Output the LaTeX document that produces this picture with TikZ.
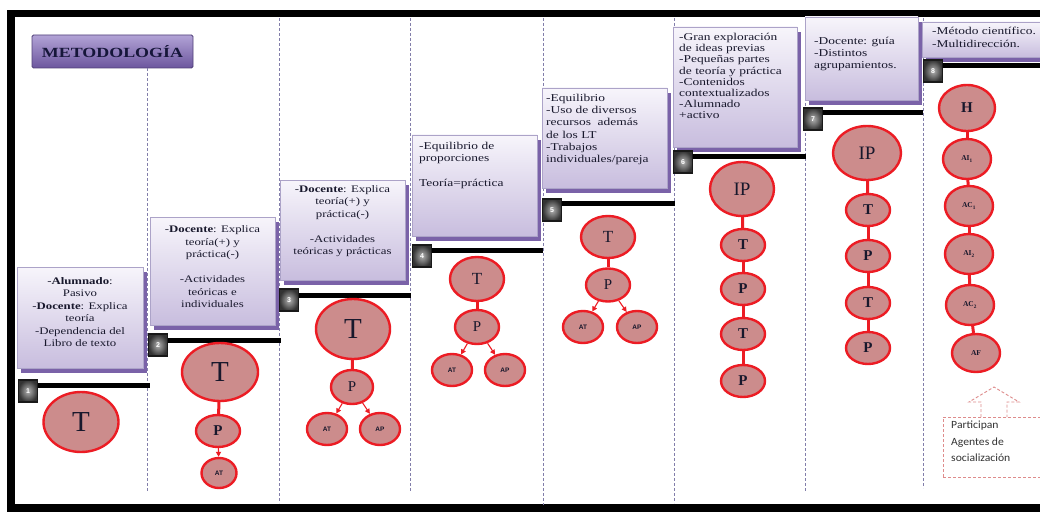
\documentclass[tikz,border=0pt]{standalone}
\usepackage{fontspec}
\setmainfont{Liberation Serif}
\newfontfamily\bxf{Liberation Serif}[FakeStretch=1.28]
\newfontfamily\clf{Carlito}[FakeStretch=1.06]
\newfontfamily\sqf{Liberation Sans}
\usetikzlibrary{shapes.geometric,arrows.meta,shadows}

\definecolor{rose}{RGB}{204,140,140}
\definecolor{bubred}{RGB}{236,28,36}
\definecolor{purp}{RGB}{122,98,168}
\definecolor{boxtop}{RGB}{247,245,251}
\definecolor{boxbot}{RGB}{200,189,222}
\definecolor{boxedge}{RGB}{172,163,200}
\definecolor{sepc}{RGB}{130,126,170}
\definecolor{txt}{RGB}{24,24,44}
\definecolor{pinkd}{RGB}{222,140,140}
\definecolor{titletop}{RGB}{178,163,214}
\definecolor{titlebot}{RGB}{108,86,158}
\definecolor{titleedge}{RGB}{80,64,120}
\definecolor{titletxt}{RGB}{22,22,58}

\newcommand\fsBigT{\fontsize{29}{29}\selectfont}
\newcommand\fsMidT{\fontsize{17}{17}\selectfont}
\newcommand\fsP{\fontsize{15}{15}\selectfont}
\newcommand\fsIP{\fontsize{19}{19}\selectfont}
\newcommand\fsSmall{\sqf\bfseries\fontsize{6.5}{6.5}\selectfont}
\newcommand\fsSub{\bfseries\fontsize{7.5}{7.5}\selectfont}

\begin{document}
\begin{tikzpicture}[x=1pt,y=-1pt,
  sep/.style={draw=sepc, line width=1pt, dash pattern=on 3pt off 2pt},
  stepbox/.style={rectangle, draw=boxedge, line width=0.6pt, top color=boxtop,
    bottom color=boxbot, inner sep=0pt,
    general shadow={fill=purp, shadow xshift=4pt, shadow yshift=-5pt}},
  boxtext/.style={inner sep=0pt, text=txt, font=\bxf\fontsize{10}{12.5}\selectfont},
  numsq/.style={rectangle, minimum width=19pt, minimum height=22pt, inner sep=0pt,
    draw=black!90, line width=1.6pt, inner color=black!30, outer color=black!80,
    text=white, font=\sqf\bfseries\fontsize{7}{7}\selectfont},
  bar/.style={draw=black, line width=5pt},
  bub/.style={ellipse, draw=bubred, fill=rose, line width=2.4pt, inner sep=0pt, text=txt},
  link/.style={draw=bubred, line width=3pt},
  arr/.style={draw=bubred, line width=1.1pt, -{Triangle[length=5pt,width=5pt]}},
  pinkdash/.style={draw=pinkd, line width=0.9pt, dash pattern=on 3pt off 2pt},
  titlebox/.style={rectangle, minimum width=161pt, minimum height=33pt, rounded corners=1.5pt,
    top color=titletop, bottom color=titlebot, draw=titleedge, line width=0.8pt,
    text=titletxt, font=\bxf\bfseries\fontsize{14}{14}\selectfont}
]
\useasboundingbox (0,0) rectangle (1040,513);
\fill[white] (0,0) rectangle (1040,513);

% outer frame (open on the right)
\draw[line width=7.5pt, line join=miter] (1050,13.5) -- (11,13.5) -- (11,508) -- (1050,508);

% title
\node[titlebox] (title) at (112.5,51.5) {METODOLOGÍA};

% dashed column separators
\draw[sep] (147,68) -- (147,492);
\draw[sep] (279,18) -- (279,503);
\draw[sep] (410,18) -- (410,492);
\draw[sep] (543,18) -- (543,505);
\draw[sep] (674,18) -- (674,503);
\draw[sep] (805,18) -- (805,492);
\draw[sep] (923,18) -- (923,488);

% step boxes
\node[stepbox, minimum width=126pt, minimum height=101pt] (b1) at (80,317.5) {};
\node[stepbox, minimum width=125pt, minimum height=108pt] (b2) at (212.5,271) {};
\node[stepbox, minimum width=125pt, minimum height=100pt] (b3) at (342.5,230) {};
\node[stepbox, minimum width=125pt, minimum height=101pt] (b4) at (474.5,185.5) {};
\node[stepbox, minimum width=125pt, minimum height=100pt] (b5) at (604.5,138) {};
\node[stepbox, minimum width=124pt, minimum height=120pt] (b6) at (735,87) {};
\node[stepbox, minimum width=113pt, minimum height=83pt] (b7) at (861.5,58.5) {};
\node[stepbox, minimum width=124pt, minimum height=35pt] (b8) at (984,39.5) {};

% box texts
\node[boxtext, align=center] (t1) at (80,312) {-\textbf{Alumnado}:\\Pasivo\\-\textbf{Docente}: Explica\\teoría\\-Dependencia del\\Libro de texto};
\node[boxtext, align=center] (t2) at (212.5,267) {-\textbf{Docente}: Explica\\teoría(+) y\\práctica(-)\\[12.5pt]-Actividades\\teóricas e\\individuales};
\node[boxtext, align=center, anchor=north] (t3) at (342.5,185) {-\textbf{Docente}: Explica\\teoría(+) y\\práctica(-)\\[12.5pt]-Actividades\\teóricas y prácticas};
\node[boxtext, align=left, anchor=north west, font=\bxf\fontsize{10.5}{12.5}\selectfont] (t4) at (419,142) {-Equilibrio de\\proporciones\\[12.5pt]Teoría=práctica};
\node[boxtext, align=left, anchor=north west, font=\bxf\fontsize{10.5}{12.2}\selectfont] (t5) at (546,94) {-Equilibrio\\-Uso de diversos\\recursos \ además\\de los LT\\-Trabajos\\individuales/pareja};
\node[boxtext, align=left, anchor=north west, font=\bxf\fontsize{10.5}{11.2}\selectfont] (t6) at (679,33) {-Gran exploración\\de ideas previas\\-Pequeñas partes\\de teoría y práctica\\-Contenidos\\contextualizados\\-Alumnado\\+activo};
\node[boxtext, align=left, anchor=north west, font=\bxf\fontsize{10.5}{11.8}\selectfont] (t7) at (814,37) {-Docente: guía\\-Distintos\\agrupamientos.};
\node[boxtext, align=left, anchor=north west, font=\bxf\fontsize{10.5}{13}\selectfont] (t8) at (932,27) {-Método científico.\\-Multidirección.};

% step bars
\coordinate (e1) at (150,385);
\coordinate (e2) at (281,340);
\coordinate (e3) at (411,295);
\coordinate (e4) at (543,250);
\coordinate (e5) at (675,203);
\coordinate (e6) at (806,157);
\coordinate (e7) at (923,113);
\coordinate (e8) at (1045,66);
\coordinate (q1) at (28,391);
\coordinate (q2) at (158,345);
\coordinate (q3) at (289,300);
\coordinate (q4) at (422,256);
\coordinate (q5) at (552,210);
\coordinate (q6) at (683,162);
\coordinate (q7) at (813,119);
\coordinate (q8) at (933,71);
\draw[bar] (q1 |- e1) -- (e1);
\draw[bar] (q2 |- e2) -- (e2);
\draw[bar] (q3 |- e3) -- (e3);
\draw[bar] (q4 |- e4) -- (e4);
\draw[bar] (q5 |- e5) -- (e5);
\draw[bar] (q6 |- e6) -- (e6);
\draw[bar] (q7 |- e7) -- (e7);
\draw[bar] (q8 |- e8) -- (e8);

% numbered squares on top of the bars
\node[numsq] (s1) at (q1) {1};
\node[numsq] (s2) at (q2) {2};
\node[numsq] (s3) at (q3) {3};
\node[numsq] (s4) at (q4) {4};
\node[numsq] (s5) at (q5) {5};
\node[numsq] (s6) at (q6) {6};
\node[numsq] (s7) at (q7) {7};
\node[numsq] (s8) at (q8) {8};

% step 1
\node[bub, minimum width=75pt, minimum height=60pt, font=\fsBigT] (c1T) at (81,422) {T};

% step 2
\node[bub, minimum width=76pt, minimum height=58pt, font=\fsBigT] (c2T) at (220,372) {T};
\node[bub, minimum width=44pt, minimum height=32pt, font=\fsP\bfseries] (c2P) at (218,431) {P};
\node[bub, minimum width=35pt, minimum height=30pt, font=\fsSmall] (c2AT) at (219,473) {AT};
\draw[link] (c2T) -- (c2P);
\draw[arr] (c2P) -- (c2AT);

% step 3
\node[bub, minimum width=74pt, minimum height=60pt, font=\fsBigT] (c3T) at (353,329) {T};
\node[bub, minimum width=42pt, minimum height=34pt, font=\fsP] (c3P) at (352,387) {P};
\node[bub, minimum width=40pt, minimum height=32pt, font=\fsSmall] (c3AT) at (327,429) {AT};
\node[bub, minimum width=40pt, minimum height=32pt, font=\fsSmall] (c3AP) at (380,429) {AP};
\draw[link] (c3T) -- (c3P);
\draw[arr] (c3P) -- (c3AT);
\draw[arr] (c3P) -- (c3AP);

% step 4
\node[bub, minimum width=54pt, minimum height=44pt, font=\fsMidT] (c4T) at (477,279) {T};
\node[bub, minimum width=44pt, minimum height=34pt, font=\fsP] (c4P) at (477,327) {P};
\node[bub, minimum width=40pt, minimum height=32pt, font=\fsSmall] (c4AT) at (452,370) {AT};
\node[bub, minimum width=40pt, minimum height=32pt, font=\fsSmall] (c4AP) at (505,370) {AP};
\draw[link] (c4T) -- (c4P);
\draw[arr] (c4P) -- (c4AT);
\draw[arr] (c4P) -- (c4AP);

% step 5
\node[bub, minimum width=54pt, minimum height=42pt, font=\fsMidT] (c5T) at (608,237) {T};
\node[bub, minimum width=44pt, minimum height=33pt, font=\fsP] (c5P) at (608,285) {P};
\node[bub, minimum width=40pt, minimum height=32pt, font=\fsSmall] (c5AT) at (583,327) {AT};
\node[bub, minimum width=40pt, minimum height=32pt, font=\fsSmall] (c5AP) at (637,327) {AP};
\draw[link] (c5T) -- (c5P);
\draw[arr] (c5P) -- (c5AT);
\draw[arr] (c5P) -- (c5AP);

% step 6
\node[bub, minimum width=64pt, minimum height=54pt, font=\fsIP] (c6IP) at (742,189) {IP};
\node[bub, minimum width=44pt, minimum height=32pt, font=\fsP\bfseries] (c6T1) at (743,245) {T};
\node[bub, minimum width=44pt, minimum height=32pt, font=\fsP\bfseries] (c6P1) at (743,289) {P};
\node[bub, minimum width=44pt, minimum height=32pt, font=\fsP\bfseries] (c6T2) at (743,334) {T};
\node[bub, minimum width=44pt, minimum height=32pt, font=\fsP\bfseries] (c6P2) at (743,381) {P};
\draw[link] (c6IP) -- (c6T1);
\draw[link] (c6T1) -- (c6P1);
\draw[link] (c6P1) -- (c6T2);
\draw[link] (c6T2) -- (c6P2);

% step 7
\node[bub, minimum width=68pt, minimum height=54pt, font=\fsIP] (c7IP) at (867,153) {IP};
\node[bub, minimum width=44pt, minimum height=32pt, font=\fsP\bfseries] (c7T1) at (868,210) {T};
\node[bub, minimum width=44pt, minimum height=32pt, font=\fsP\bfseries] (c7P1) at (868,256) {P};
\node[bub, minimum width=44pt, minimum height=32pt, font=\fsP\bfseries] (c7T2) at (868,303) {T};
\node[bub, minimum width=44pt, minimum height=32pt, font=\fsP\bfseries] (c7P2) at (868,348) {P};
\draw[link] (c7IP) -- (c7T1);
\draw[link] (c7T1) -- (c7P1);
\draw[link] (c7P1) -- (c7T2);
\draw[link] (c7T2) -- (c7P2);

% step 8
\node[bub, minimum width=56pt, minimum height=46pt, font=\fsP\bfseries] (c8H) at (967,108) {H};
\node[bub, minimum width=48pt, minimum height=40pt, font=\fsSub] (c8AI1) at (967,159) {AI\textsubscript{1}};
\node[bub, minimum width=48pt, minimum height=40pt, font=\fsSub] (c8AC1) at (969,206) {AC\textsubscript{1}};
\node[bub, minimum width=48pt, minimum height=40pt, font=\fsSub] (c8AI2) at (969,254) {AI\textsubscript{2}};
\node[bub, minimum width=48pt, minimum height=40pt, font=\fsSub] (c8AC2) at (970,305) {AC\textsubscript{2}};
\node[bub, minimum width=48pt, minimum height=38pt, font=\fsSub] (c8AF) at (976,353) {AF};
\draw[link] (c8H) -- (c8AI1);
\draw[link] (c8AI1) -- (c8AC1);
\draw[link] (c8AC1) -- (c8AI2);
\draw[link] (c8AI2) -- (c8AC2);
\draw[link] (c8AC2) -- (c8AF);

% socialisation agents note with hollow up arrow
\node[pinkdash, rectangle, minimum width=104pt, minimum height=60pt, inner sep=0pt] (part) at (995,447) {};
\node[anchor=north west, inner sep=0pt, align=left, text=black!80,
      font=\clf\fontsize{11}{16.5}\selectfont] (ptxt) at (951,421) {Participan\\Agentes de\\socialización};
\draw[pinkdash] (981,417) -- (981,402) -- (969,402) -- (994,387) -- (1019,402) -- (1007,402) -- (1007,417);
\end{tikzpicture}
\end{document}
